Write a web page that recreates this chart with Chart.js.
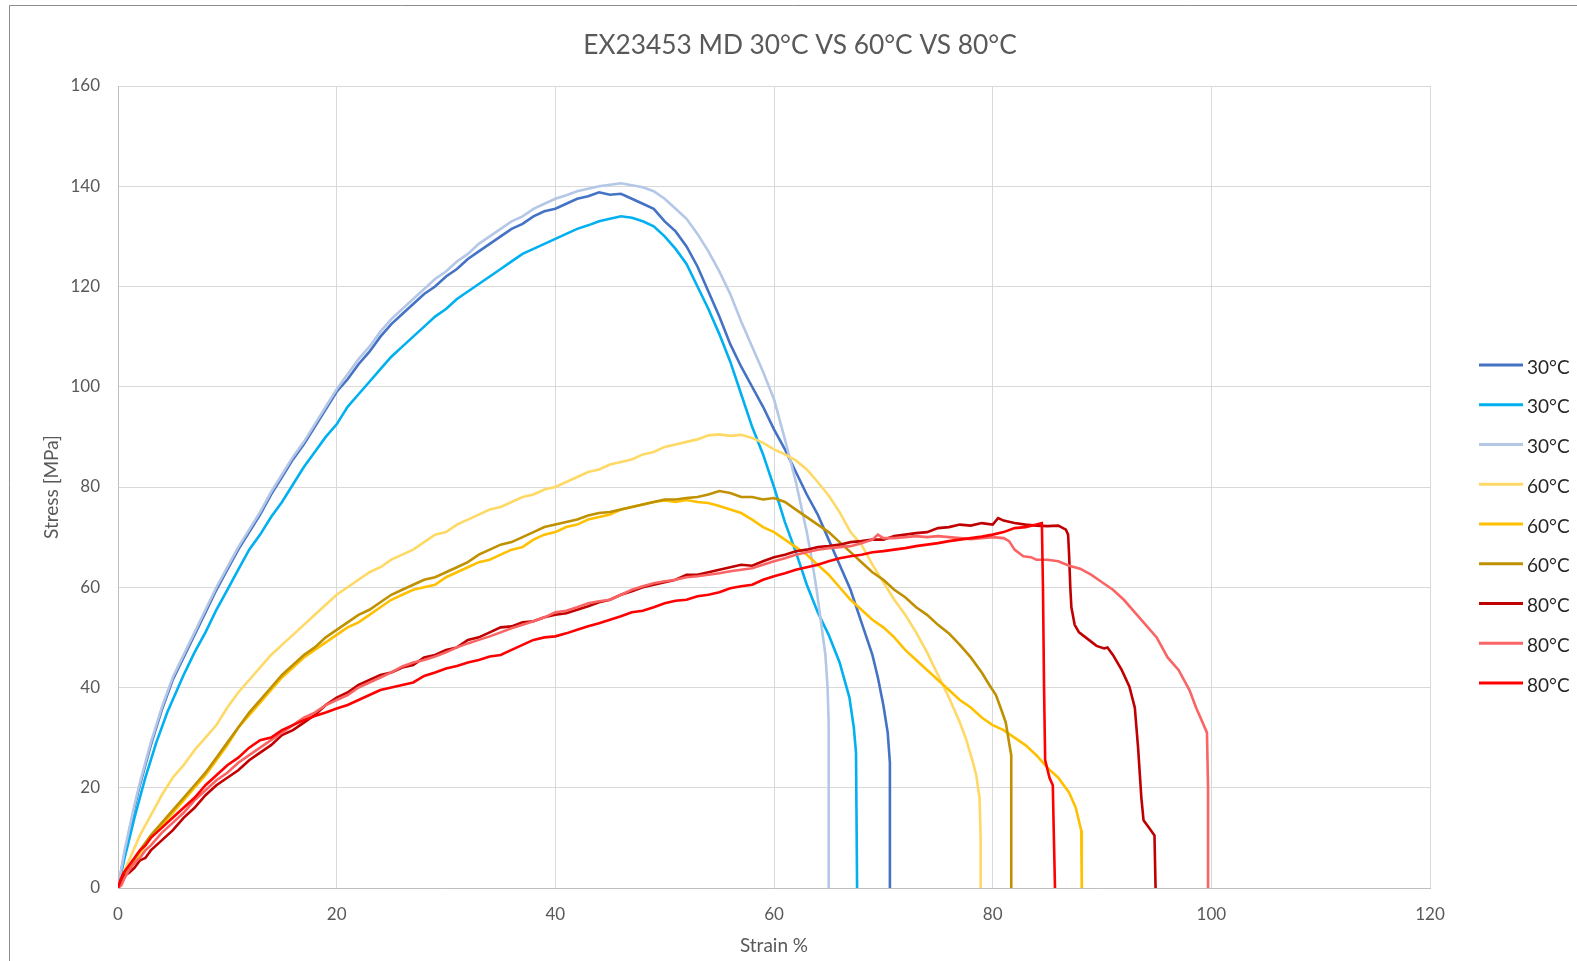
<!DOCTYPE html>
<html><head><meta charset="utf-8">
<script src="https://cdn.jsdelivr.net/npm/chart.js@4.4.0/dist/chart.umd.min.js"></script>
<style>html,body{margin:0;padding:0;background:#fff;overflow:hidden}canvas{display:block}</style>
</head><body>
<canvas id="c" width="1577" height="961"></canvas>
<script>
const chartTitle = 'EX23453 MD 30°C VS 60°C VS 80°C';
const xAxisTitle = 'Strain %';
const yAxisTitle = 'Stress [MPa]';
const seriesLabels = ['30°C','30°C','30°C','60°C','60°C','60°C','80°C','80°C','80°C'];
const xTicks = [0,20,40,60,80,100,120];
const yTicks = [0,20,40,60,80,100,120,140,160];

// [strain %, stress MPa]
const s30a = [[0,0],[0.3,3.5],[0.6,7],[1,11],[1.5,16],[2,20.5],[2.5,24.5],[3,28.5],[3.5,32],[4,35.5],[4.5,38.5],[5,41.5],[6,46],[7,50.5],[8,55],[9,59.5],[10,63.5],[11,67.5],[12,71],[13,74.5],[14,78.5],[15,82],[16,85.5],[17,88.5],[18,92],[19,95.5],[20,99],[21,101.5],[22,104.5],[23,107],[24,110],[25,112.5],[26,114.5],[27,116.5],[28,118.5],[29,120],[30,122],[31,123.5],[32,125.5],[33,127],[34,128.5],[35,130],[36,131.5],[37,132.5],[38,134],[39,135],[40,135.5],[41,136.5],[42,137.5],[43,138],[44,138.8],[45,138.3],[46,138.5],[47,137.5],[48,136.5],[49,135.5],[50,133],[51,131],[52,128],[53,124],[54,119],[55,114],[56,108.5],[57,104],[58,100],[59,96],[60,91.5],[61,87.5],[62,83],[63,78.5],[64,74.5],[65,69.5],[66,64.5],[67,59.5],[68,53],[69,46.5],[69.5,42],[70,36.5],[70.4,31],[70.6,25],[70.6,0]];
const s30b = [[0,0],[0.3,3],[0.6,6],[1,9.5],[1.5,14],[2,18],[2.5,22],[3,25.5],[3.5,29],[4,32],[4.5,35],[5,37.5],[6,42.5],[7,47],[8,51],[9,55.5],[10,59.5],[11,63.5],[12,67.5],[13,70.5],[14,74],[15,77],[16,80.5],[17,84],[18,87],[19,90],[20,92.5],[21,96],[22,98.5],[23,101],[24,103.5],[25,106],[26,108],[27,110],[28,112],[29,114],[30,115.5],[31,117.5],[32,119],[33,120.5],[34,122],[35,123.5],[36,125],[37,126.5],[38,127.5],[39,128.5],[40,129.5],[41,130.5],[42,131.5],[43,132.2],[44,133],[45,133.5],[46,134],[47,133.7],[48,133],[49,132],[50,130],[51,127.5],[52,124.5],[53,120],[54,115.5],[55,110.5],[56,105],[57,98.5],[58,92],[59,86.5],[60,80],[61,73],[62,67],[63,60.5],[64,55],[65,50.5],[66,45],[66.9,38],[67.3,32],[67.5,27],[67.6,0]];
const s30c = [[0,0],[0.3,3.8],[0.6,7.5],[1,11.5],[1.5,16.5],[2,21],[2.5,25],[3,29],[3.5,32.5],[4,36],[4.5,39],[5,42],[6,46.5],[7,51],[8,55.5],[9,60],[10,64],[11,68],[12,71.5],[13,75],[14,79],[15,82.5],[16,86],[17,89],[18,92.5],[19,96],[20,99.5],[21,102.5],[22,105.5],[23,108],[24,111],[25,113.5],[26,115.5],[27,117.5],[28,119.5],[29,121.5],[30,123],[31,125],[32,126.5],[33,128.5],[34,130],[35,131.5],[36,133],[37,134],[38,135.5],[39,136.5],[40,137.5],[41,138.2],[42,139],[43,139.5],[44,140],[45,140.3],[46,140.6],[47,140.2],[48,139.8],[49,139],[50,137.5],[51,135.5],[52,133.5],[53,130.5],[54,127],[55,123],[56,118.5],[57,113],[58,108],[59,103],[60,97.5],[61,89.5],[62,81],[63,71],[63.5,65],[63.9,59.5],[64.3,53],[64.7,46.5],[64.9,40],[65,33],[65,0]];
const s60a = [[0,0],[0.5,3],[1,5.5],[1.5,8],[2,10.5],[3,14.5],[4,18.5],[5,22],[6,24.5],[7,27.5],[8,30],[9,32.5],[10,36],[11,39],[12,41.5],[13,44],[14,46.5],[15,48.5],[16,50.5],[17,52.5],[18,54.5],[19,56.5],[20,58.5],[21,60],[22,61.5],[23,63],[24,64],[25,65.5],[26,66.5],[27,67.5],[28,69],[29,70.5],[30,71],[31,72.5],[32,73.5],[33,74.5],[34,75.5],[35,76],[36,77],[37,78],[38,78.5],[39,79.5],[40,80],[41,81],[42,82],[43,83],[44,83.5],[45,84.5],[46,85],[47,85.5],[48,86.5],[49,87],[50,88],[51,88.5],[52,89],[53,89.5],[54,90.3],[55,90.5],[56,90.2],[57,90.4],[58,89.8],[59,88.8],[60,87.5],[61,86.5],[62,85.3],[63,83.5],[64,81],[65,78.3],[66,75],[67,71],[68,68.5],[69,64.5],[70,61],[71,57.5],[72,54.5],[73,51],[74,47],[75,42.5],[76,38],[77,33],[77.6,29.5],[78.2,25],[78.5,22.5],[78.8,18],[78.9,10],[78.9,0]];
const s60b = [[0,0],[0.5,2],[1,3.5],[2,7],[3,10],[4,12.5],[5,15],[6,17.5],[7,20],[8,22.5],[9,25.5],[10,28.5],[11,32],[12,34.5],[13,37],[14,39.5],[15,42],[16,44],[17,46],[18,47.5],[19,49],[20,50.5],[21,52],[22,53],[23,54.5],[24,56],[25,57.5],[26,58.5],[27,59.5],[28,60],[29,60.5],[30,62],[31,63],[32,64],[33,65],[34,65.5],[35,66.5],[36,67.5],[37,68],[38,69.5],[39,70.5],[40,71],[41,72],[42,72.5],[43,73.5],[44,74],[45,74.5],[46,75.5],[47,76],[48,76.5],[49,77],[50,77.3],[51,77],[52,77.4],[53,77],[54,76.8],[55,76.2],[56,75.5],[57,74.8],[58,73.5],[59,72],[60,71],[61,69.5],[62,68],[63,66.5],[64,64.5],[65,62.5],[66,60],[67,57.5],[68,55.5],[69,53.5],[70,52],[71,50],[72,47.5],[73,45.5],[74,43.5],[75,41.5],[76,39.5],[77,37.5],[78,36],[79,34],[80,32.5],[81,31.5],[82,30],[83,28.5],[84,26.5],[85,24],[86,22],[87,19],[87.6,16],[88.1,11.5],[88.15,0]];
const s60c = [[0,0],[0.5,2.5],[1,4],[2,7.5],[3,10.5],[4,13],[5,15.5],[6,18],[7,20.5],[8,23],[9,26],[10,29],[11,32],[12,35],[13,37.5],[14,40],[15,42.5],[16,44.5],[17,46.5],[18,48],[19,50],[20,51.5],[21,53],[22,54.5],[23,55.5],[24,57],[25,58.5],[26,59.5],[27,60.5],[28,61.5],[29,62],[30,63],[31,64],[32,65],[33,66.5],[34,67.5],[35,68.5],[36,69],[37,70],[38,71],[39,72],[40,72.5],[41,73],[42,73.5],[43,74.3],[44,74.8],[45,75],[46,75.5],[47,76],[48,76.5],[49,77],[50,77.5],[51,77.5],[52,77.8],[53,78],[54,78.5],[55,79.2],[56,78.8],[57,78],[58,78],[59,77.5],[60,77.8],[61,77],[62,75.5],[63,74],[64,72.5],[65,71],[66,69],[67,67],[68,65],[69,63],[70,61.5],[71,59.5],[72,58],[73,56],[74,54.5],[75,52.5],[76,50.8],[77,48.5],[78,46],[79,43],[79.7,40.5],[80.3,38.5],[80.8,35.5],[81.2,33],[81.5,29],[81.7,26.5],[81.7,0]];
const s80a = [[0,0],[0.3,1],[0.6,2.5],[1,3],[1.5,4],[2,5.5],[2.5,6],[3,7.5],[4,9.5],[5,11.5],[6,14],[7,16],[8,18.5],[9,20.5],[10,22],[11,23.5],[12,25.5],[13,27],[14,28.5],[15,30.5],[16,31.5],[17,33],[18,34.5],[19,36.5],[20,38],[21,39],[22,40.5],[23,41.5],[24,42.5],[25,43],[26,44],[27,44.5],[28,46],[29,46.5],[30,47.5],[31,48],[32,49.5],[33,50],[34,51],[35,52],[36,52.2],[37,53],[38,53.2],[39,54],[40,54.5],[41,54.8],[42,55.5],[43,56.2],[44,57],[45,57.5],[46,58.5],[47,59.2],[48,60],[49,60.5],[50,61],[51,61.5],[52,62.5],[53,62.5],[54,63],[55,63.5],[56,64],[57,64.5],[58,64.3],[59,65.2],[60,66],[61,66.5],[62,67.2],[63,67.5],[64,68],[65,68.2],[66,68.5],[67,69],[68,69.2],[69,69.5],[70,69.5],[71,70.2],[72,70.5],[73,70.8],[74,71],[75,71.8],[76,72],[77,72.5],[78,72.3],[79,72.8],[80,72.5],[80.5,73.8],[81,73.3],[82,72.8],[83,72.5],[84,72.3],[85,72.2],[86,72.3],[86.7,71.5],[86.9,70.5],[87,66],[87.1,60],[87.2,56],[87.5,52.5],[87.9,51],[88.5,50],[89.5,48.3],[90.2,47.8],[90.5,48],[91,46.5],[91.8,43.5],[92.5,40.2],[93,36],[93.3,28],[93.6,18],[93.8,13.5],[94.3,12],[94.8,10.5],[94.9,0]];
const s80b = [[0,0],[0.3,0.5],[0.6,2],[1,3.5],[1.5,5],[2,6],[2.5,7.5],[3,8.5],[4,11],[5,13],[6,15],[7,17.5],[8,19.5],[9,21.5],[10,23],[11,25],[12,26.5],[13,28],[14,29.5],[15,31],[16,32.5],[17,34],[18,35],[19,36.5],[20,37.5],[21,38.5],[22,40],[23,41],[24,42],[25,43],[26,44.2],[27,45],[28,45.5],[29,46.2],[30,47],[31,48],[32,48.8],[33,49.5],[34,50.2],[35,51],[36,51.8],[37,52.5],[38,53.2],[39,54],[40,55],[41,55.3],[42,56],[43,56.8],[44,57.2],[45,57.5],[46,58.5],[47,59.5],[48,60.2],[49,60.8],[50,61.2],[51,61.5],[52,62],[53,62.2],[54,62.5],[55,62.8],[56,63.2],[57,63.5],[58,63.8],[59,64.5],[60,65.2],[61,65.8],[62,66.5],[63,67],[64,67.5],[65,67.8],[66,68],[67,68.2],[68,68.8],[69,69.5],[69.5,70.5],[70,69.8],[71,69.8],[72,70],[73,70.2],[74,70],[75,70.2],[76,70],[77,69.8],[78,69.6],[79,69.8],[80,70],[81,69.8],[81.5,69.2],[82,67.5],[82.8,66.2],[83.5,66],[84,65.5],[85,65.5],[86,65.2],[87,64.3],[88,63.7],[89,62.5],[90,61],[91,59.5],[92,57.5],[93,55],[94,52.5],[95,50],[96,46],[97,43.5],[98,39.5],[98.6,36],[99,34],[99.6,31],[99.7,20],[99.7,0]];
const s80c = [[0,0],[0.2,1.5],[0.5,3],[1,4.5],[1.5,6],[2,7.5],[2.5,8.5],[3,10],[4,12],[5,14],[6,16],[7,18],[8,20.5],[9,22.5],[10,24.5],[11,26],[12,28],[13,29.5],[14,30],[15,31.5],[16,32.5],[17,33.5],[18,34.3],[19,35],[20,35.8],[21,36.5],[22,37.5],[23,38.5],[24,39.5],[25,40],[26,40.5],[27,41],[28,42.3],[29,43],[30,43.8],[31,44.3],[32,45],[33,45.5],[34,46.2],[35,46.5],[36,47.5],[37,48.5],[38,49.5],[39,50],[40,50.2],[41,50.8],[42,51.5],[43,52.2],[44,52.8],[45,53.5],[46,54.2],[47,55],[48,55.3],[49,56],[50,56.8],[51,57.3],[52,57.5],[53,58.2],[54,58.5],[55,59],[56,59.8],[57,60.2],[58,60.5],[59,61.5],[60,62.2],[61,62.8],[62,63.5],[63,64],[64,64.5],[65,65.2],[66,65.8],[67,66.2],[68,66.5],[69,67],[70,67.2],[71,67.5],[72,67.8],[73,68.2],[74,68.5],[75,68.8],[76,69.2],[77,69.5],[78,69.8],[79,70.1],[80,70.5],[81,71],[82,71.8],[83,72],[84,72.5],[84.5,72.8],[84.6,60],[84.7,40],[84.8,25.5],[85.2,22],[85.5,20.5],[85.6,10],[85.7,0]];

const seriesData = [s30a, s30b, s30c, s60a, s60b, s60c, s80a, s80b, s80c];
const seriesColors = ['#4472C4','#00B0F0','#B4C7E7','#FFD966','#FFC000','#BF9000','#C00000','#FA6464','#FF0000'];

const FONT = 'Lato';
const datasets = seriesData.map((d, i) => ({
  label: seriesLabels[i],
  data: d.map(p => ({x: p[0], y: p[1]})),
  borderColor: seriesColors[i],
  backgroundColor: seriesColors[i],
  borderWidth: 2.6,
  pointRadius: 0,
  showLine: true,
  tension: 0,
  fill: false,
  order: seriesData.length - i
}));

const decor = {
  id: 'decor',
  beforeDraw(chart) {
    const ctx = chart.ctx;
    ctx.save();
    ctx.fillStyle = '#fff';
    ctx.fillRect(0, 0, chart.width, chart.height);
    ctx.strokeStyle = '#8c8c8c';
    ctx.lineWidth = 1;
    ctx.beginPath();
    ctx.moveTo(9.5, chart.height);
    ctx.lineTo(9.5, 5.5);
    ctx.lineTo(chart.width, 5.5);
    ctx.stroke();
    ctx.restore();
  },
  afterDraw(chart) {
    const ctx = chart.ctx;
    ctx.save();
    ctx.fillStyle = '#595959';
    ctx.font = '26.3px ' + FONT;
    ctx.textAlign = 'center';
    ctx.textBaseline = 'alphabetic';
    ctx.fillText(chartTitle, 800, 54);
    ctx.font = '19px ' + FONT;
    ctx.textAlign = 'left';
    chart.data.datasets.forEach((ds, i) => {
      const y = 365 + i * 39.75;
      ctx.strokeStyle = ds.borderColor;
      ctx.lineWidth = 3;
      ctx.beginPath();
      ctx.moveTo(1479, y);
      ctx.lineTo(1523, y);
      ctx.stroke();
      ctx.fillStyle = '#262626';
      ctx.fillText(ds.label, 1527, y + 8.5);
    });
    ctx.restore();
  }
};

new Chart(document.getElementById('c'), {
  type: 'scatter',
  data: { datasets },
  options: {
    responsive: false,
    animation: false,
    devicePixelRatio: 1,
    layout: { padding: { top: 86, right: 147, left: 0, bottom: 0 } },
    plugins: { legend: { display: false }, title: { display: false }, tooltip: { enabled: false } },
    scales: {
      x: {
        type: 'linear', position: 'bottom', min: 0, max: 120,
        afterBuildTicks: s => { s.ticks = xTicks.map(v => ({ value: v })); },
        afterFit: s => { s.height = 73; s.paddingLeft = 0; s.paddingRight = 0; },
        ticks: { font: { family: FONT, size: 17 }, color: '#595959', padding: 16, maxRotation: 0 },
        grid: { color: '#d9d9d9', lineWidth: 1, drawTicks: false },
        border: { color: '#bfbfbf', width: 1 },
        title: { display: true, text: xAxisTitle, color: '#595959', font: { family: FONT, size: 19 }, padding: { top: 0, bottom: 4 } }
      },
      y: {
        type: 'linear', position: 'left', min: 0, max: 160,
        afterBuildTicks: s => { s.ticks = yTicks.map(v => ({ value: v })); },
        afterFit: s => { s.width = 118; s.paddingTop = 0; s.paddingBottom = 0; },
        ticks: { font: { family: FONT, size: 17 }, color: '#595959', padding: 18 },
        grid: { color: '#d9d9d9', lineWidth: 1, drawTicks: false },
        border: { color: '#bfbfbf', width: 1 },
        title: { display: true, text: yAxisTitle, color: '#595959', font: { family: FONT, size: 19 }, padding: { top: 40, bottom: 0 } }
      }
    }
  },
  plugins: [decor]
});
</script>
</body></html>
